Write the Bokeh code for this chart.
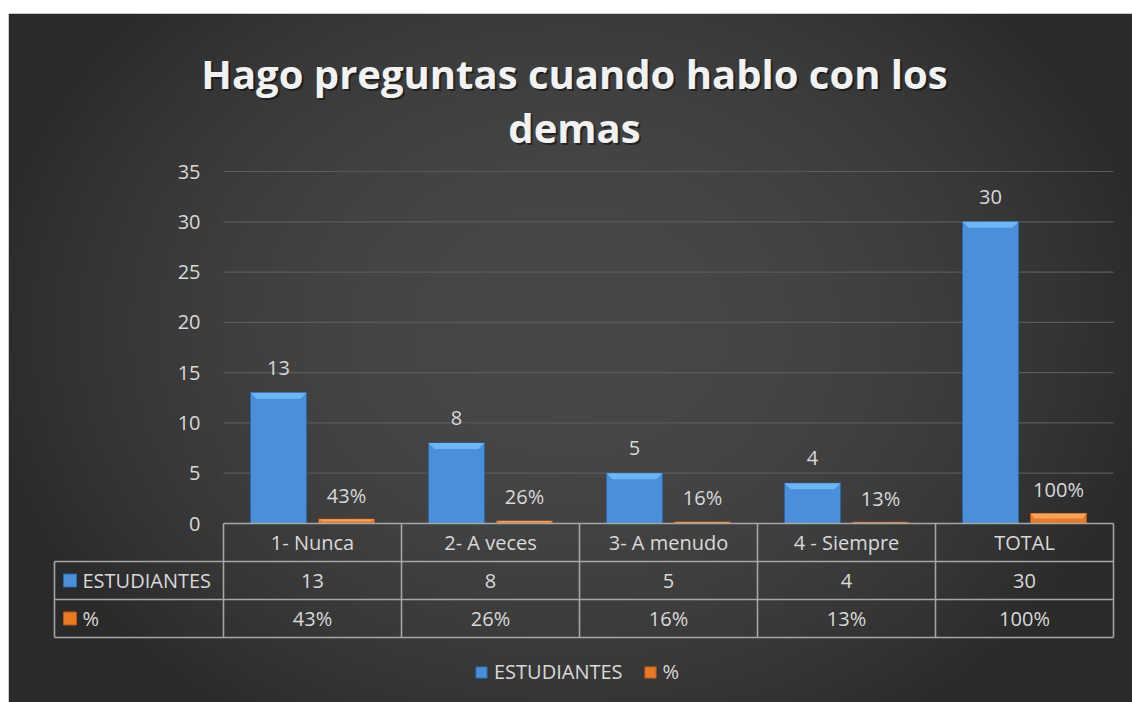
import numpy as np
from bokeh.plotting import figure
from bokeh.models import Range1d, Legend, LegendItem
from bokeh.core.properties import value
from bokeh.embed import file_html
from bokeh.resources import INLINE

# ---------------- data ----------------
categories = ["1- Nunca", "2- A veces", "3- A menudo", "4 - Siempre", "TOTAL"]
estudiantes = [13, 8, 5, 4, 30]
porcentaje = [0.43, 0.26, 0.16, 0.13, 1.00]
porcentaje_labels = ["43%", "26%", "16%", "13%", "100%"]
y_ticks = [0, 5, 10, 15, 20, 25, 30, 35]
series_names = ["ESTUDIANTES", "%"]
title_lines = ["Hago preguntas cuando hablo con los", "demas"]

# ---------------- layout helpers (page pixels -> data) ----------------
CAT_W_PX = 178.0
CAT0_PX = 312.0
ZERO_PX = 523.0
UNIT_PX = 10.057


def px_x(X):
    return (X - CAT0_PX) / CAT_W_PX


def px_y(Y):
    return (ZERO_PX - Y) / UNIT_PX


W, H = 1132, 702
LEFT, TOP = 8, 13
x0, x1 = px_x(LEFT), px_x(W)
y0, y1 = px_y(H), px_y(TOP)

FONT = value("Open Sans")
TXT = "#d9d9d9"
FS = "20px"

p = figure(width=W, height=H, output_backend="svg", toolbar_location=None,
           x_range=Range1d(x0, x1), y_range=Range1d(y0, y1),
           x_axis_type=None, y_axis_type=None, title=None,
           min_border_left=LEFT, min_border_right=0, min_border_bottom=0,
           min_border_top=TOP, border_fill_color="white", outline_line_color=None)
p.grid.visible = False

# ---------------- background gradient ----------------
gw, gh = 281, 172
ii = (np.arange(gw) + 0.5) / gw
jj = (np.arange(gh) + 0.5) / gh
X = LEFT + ii[None, :] * (W - LEFT)
Y = H - jj[:, None] * (H - TOP)
t2 = ((X - 570) / 598.0) ** 2 + ((Y - 330) / 474.0) ** 2
c = np.clip(72 - 30 * t2, 42, 72).astype(np.uint8)
img = np.empty((gh, gw), dtype=np.uint32)
view = img.view(dtype=np.uint8).reshape((gh, gw, 4))
view[..., 0] = c
view[..., 1] = c
view[..., 2] = c
view[..., 3] = 255
p.image_rgba(image=[img], x=x0, y=y0, dw=x1 - x0, dh=y1 - y0)

# ---------------- gridlines & y tick labels ----------------
grid_vals = [t for t in y_ticks if t > 0]
p.segment(x0=[px_x(223)] * len(grid_vals), x1=[px_x(1113)] * len(grid_vals),
          y0=grid_vals, y1=grid_vals, line_color="#5a5a5a", line_width=1.2)
p.text(x=[px_x(200)] * len(y_ticks), y=y_ticks, text=[str(t) for t in y_ticks],
       text_align="right", text_baseline="middle", text_color=TXT,
       text_font=FONT, text_font_size=FS)

# ---------------- bars ----------------
xc = np.arange(len(categories), dtype=float)
off = 34.0 / CAT_W_PX
bw = 56.0 / CAT_W_PX
xb = xc - off
xo = xc + off

blue_r = p.vbar(x=xb, top=estudiantes, bottom=0, width=bw,
                fill_color="#4a8fd9", line_color="#2d67a8", line_width=1)
orange_r = p.vbar(x=xo, top=porcentaje, bottom=0, width=bw,
                  fill_color="#ea7a22", line_color="#b4561a", line_width=1)

# bevel tops
dx = 6.0 / CAT_W_PX
dy = 6.0 / UNIT_PX
bxs, bys = [], []
for x, v in zip(xb, estudiantes):
    bxs.append([x - bw / 2, x + bw / 2, x + bw / 2 - dx, x - bw / 2 + dx])
    bys.append([v, v, v - dy, v - dy])
p.patches(xs=bxs, ys=bys, fill_color="#6cb6f5", line_color=None)
oxs, oys = [], []
for x, v in zip(xo, porcentaje):
    d = min(dy, v * 0.5)
    oxs.append([x - bw / 2, x + bw / 2, x + bw / 2 - dx * 0.7, x - bw / 2 + dx * 0.7])
    oys.append([v, v, v - d, v - d])
p.patches(xs=oxs, ys=oys, fill_color="#f6a45a", line_color=None)

# data labels
p.text(x=xb, y=estudiantes, text=[str(v) for v in estudiantes], y_offset=-25,
       text_align="center", text_baseline="middle", text_color=TXT,
       text_font=FONT, text_font_size=FS)
p.text(x=xo, y=porcentaje, text=porcentaje_labels, y_offset=-24,
       text_align="center", text_baseline="middle", text_color=TXT,
       text_font=FONT, text_font_size=FS)

# ---------------- data table ----------------
row_h = 38.0 / UNIT_PX
left_x = px_x(54)
edges = [k - 0.5 for k in range(len(categories) + 1)]
LC = "#a6a6a6"
LW = 1.6
# horizontal lines
p.segment(x0=[edges[0]] + [left_x] * 3, x1=[edges[-1]] * 4,
          y0=[0, -row_h, -2 * row_h, -3 * row_h], y1=[0, -row_h, -2 * row_h, -3 * row_h],
          line_color=LC, line_width=LW)
# vertical lines
p.segment(x0=edges + [left_x], x1=edges + [left_x],
          y0=[0] * len(edges) + [-row_h], y1=[-3 * row_h] * (len(edges) + 1),
          line_color=LC, line_width=LW)
# cell texts
p.text(x=xc, y=[-0.5 * row_h] * len(categories), text=categories,
       text_align="center", text_baseline="middle", text_color=TXT,
       text_font=FONT, text_font_size=FS)
p.text(x=xc, y=[-1.5 * row_h] * len(categories), text=[str(v) for v in estudiantes],
       text_align="center", text_baseline="middle", text_color=TXT,
       text_font=FONT, text_font_size=FS)
p.text(x=xc, y=[-2.5 * row_h] * len(categories), text=porcentaje_labels,
       text_align="center", text_baseline="middle", text_color=TXT,
       text_font=FONT, text_font_size=FS)
# row headers
p.text(x=[px_x(82)] * 2, y=[-1.5 * row_h, -2.5 * row_h], text=series_names,
       text_align="left", text_baseline="middle", text_color=TXT,
       text_font=FONT, text_font_size=FS)
p.scatter(x=[px_x(69.5)] * 2, y=[-1.5 * row_h, -2.5 * row_h], marker="square", size=13,
          fill_color=["#4a8fd9", "#ea7a22"], line_color=["#2d67a8", "#b4561a"])

# ---------------- legend ----------------
legend = Legend(items=[LegendItem(label=series_names[0], renderers=[blue_r]),
                       LegendItem(label=series_names[1], renderers=[orange_r])],
                location=(466, 17), orientation="horizontal",
                background_fill_alpha=0, border_line_alpha=0,
                label_text_color=TXT, label_text_font="Open Sans", label_text_font_size=FS,
                glyph_width=14, glyph_height=14, label_standoff=6, spacing=20,
                padding=0, margin=0, label_height=20)
p.add_layout(legend)

# ---------------- title ----------------
tx = [px_x(574)] * 2
ty = [px_y(73), px_y(127)]
p.text(x=tx, y=ty, text=title_lines, x_offset=2, y_offset=2,
       text_align="center", text_baseline="alphabetic", text_color="#000000",
       text_alpha=0.45, text_font=FONT, text_font_style="bold", text_font_size="40px")
p.text(x=tx, y=ty, text=title_lines,
       text_align="center", text_baseline="alphabetic", text_color="#f2f2f2",
       text_font=FONT, text_font_style="bold", text_font_size="40px")

open("out.html", "w").write(file_html(p, INLINE))
